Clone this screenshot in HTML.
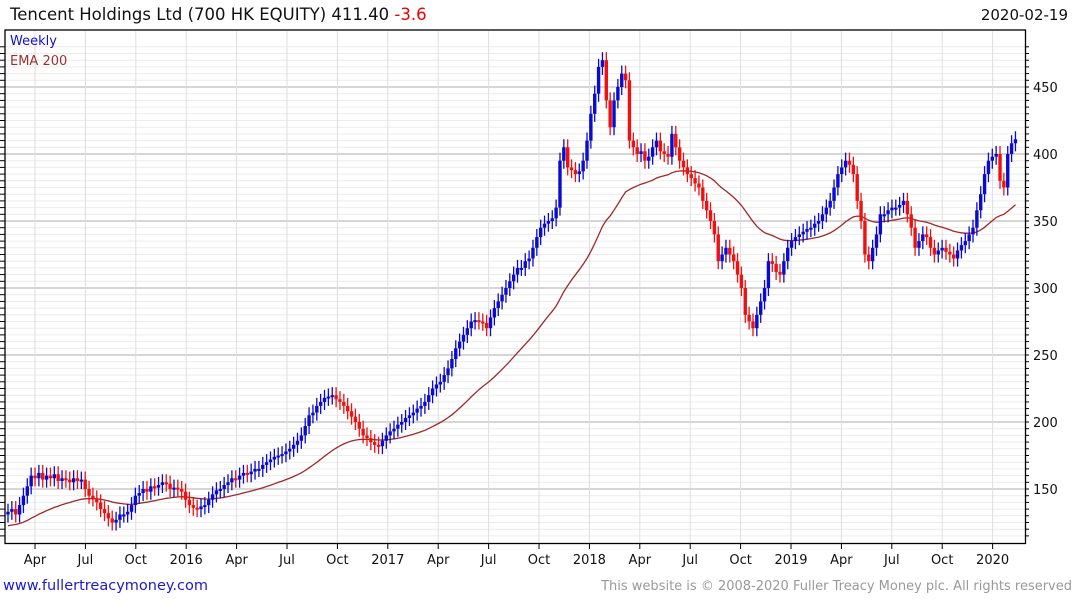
<!DOCTYPE html>
<html><head><meta charset="utf-8"><style>
body{margin:0;background:#fff;width:1075px;height:600px;overflow:hidden;font-family:"DejaVu Sans","Liberation Sans",sans-serif}
</style></head><body>
<svg id="chart" width="1075" height="600" xmlns="http://www.w3.org/2000/svg" font-family="DejaVu Sans, Liberation Sans, sans-serif">
<text x="10" y="20" font-size="16.5" fill="#111">Tencent Holdings Ltd (700 HK EQUITY) 411.40 <tspan fill="#e00">-3.6</tspan></text>
<text x="1068" y="20" font-size="15" fill="#111" text-anchor="end">2020-02-19</text>
<g id="grid"></g>
<g id="ema"></g>
<g id="candles"></g>
<rect x="5" y="30" width="1020.5" height="513.5" fill="none" stroke="#000" stroke-width="1.3"/>
<g id="axes"></g>
<text x="10" y="45" font-size="13" fill="#1010d0">Weekly</text>
<text x="10" y="65" font-size="13" fill="#a03030">EMA 200</text>
<text x="3" y="590" font-size="14.5" fill="#1a1ad0">www.fullertreacymoney.com</text>
<text x="1072" y="590" font-size="13" fill="#999" text-anchor="end">This website is © 2008-2020 Fuller Treacy Money plc. All rights reserved</text>
</svg>
<script>
const closes=[133,135,131,138,145,152,160,158,162,157,
160,158,161,156,158,157,155,158,156,157,
150,145,143,140,135,132,128,125,127,131,
131,133,138,145,147,150,148,152,151,153,
155,154,150,151,150,148,142,138,136,135,
137,138,142,146,149,150,153,155,158,157,
160,162,161,163,165,165,168,170,172,174,
175,176,178,180,183,186,190,197,205,207,
212,215,218,219,220,217,215,212,208,204,
200,195,190,188,185,183,182,186,190,193,
195,198,200,203,205,207,210,212,215,220,
225,228,230,235,240,247,255,260,265,270,
275,276,275,274,270,278,285,290,295,300,
305,310,315,315,320,322,330,338,345,348,
350,352,360,395,405,390,388,385,387,395,
410,430,445,465,470,440,420,440,450,460,
455,410,405,400,402,395,398,405,410,402,
400,398,415,405,395,390,385,382,378,375,
365,358,350,340,320,325,330,325,320,310,
300,280,275,270,280,290,300,320,318,312,
310,320,330,335,338,340,342,344,345,348,
350,355,360,365,375,385,390,395,392,385,
365,350,325,320,330,340,355,355,358,360,
360,362,365,355,345,330,335,340,338,330,
325,328,330,327,325,322,328,332,335,340,
345,358,370,385,395,398,400,380,375,400,
408,411];
const priceTicks=[150,200,250,300,350,400,450];
const dateLabels=["Apr","Jul","Oct","2016","Apr","Jul","Oct","2017","Apr","Jul","Oct","2018","Apr","Jul","Oct","2019","Apr","Jul","Oct","2020"];
const emaSeed=122;
const emaPeriod=40;

const NS="http://www.w3.org/2000/svg";
function yS(v){return 87+(450-v)*1.34;}
function xS(i){return 8+i*3.86;}
function qX(q){return 35+q*50.4;}
function mk(tag,attrs,parent){const e=document.createElementNS(NS,tag);for(const k in attrs)e.setAttribute(k,attrs[k]);parent.appendChild(e);return e;}
const grid=document.getElementById('grid'),axes=document.getElementById('axes');
for(let v=115;v<=480;v+=5){const y=yS(v);if(y<31||y>543)continue;
 const major=v%50===0;
 const l=mk('line',{x1:5,x2:1025,y1:y,y2:y,stroke:major?'#bdbdbd':'#ececec','stroke-width':major?1.3:1},grid);
 
 
 const t=mk('line',{x1:1025,x2:1029,y1:y,y2:y,stroke:'#000','stroke-width':1},axes);
 
 
 const t2=mk('line',{x1:0,x2:5,y1:y,y2:y,stroke:'#000','stroke-width':1},axes);
 
 
}
priceTicks.forEach(v=>{const t=mk('text',{x:1033,y:yS(v)+5,'font-size':13,fill:'#111'},axes);t.textContent=v;
 
 });
dateLabels.forEach((s,q)=>{const x=qX(q);
 const l=mk('line',{x1:x,x2:x,y1:31,y2:543,stroke:'#dedede','stroke-width':1},grid);
 
 
 const tk=mk('line',{x1:x,x2:x,y1:543,y2:549,stroke:'#000','stroke-width':1},axes);
 
 
 const t=mk('text',{x:x,y:564,'font-size':13,fill:'#111','text-anchor':'middle'},axes);t.textContent=s;
 
 });
const cg=document.getElementById('candles');
closes.forEach((c,i)=>{
 const o=i===0?c-2:closes[i-1];
 const hi=Math.max(o,c)+6,lo=Math.min(o,c)-6;
 const col=c>=o?'#0a0ad0':'#f01010';const x=xS(i);
 const w=mk('line',{x1:x,x2:x,y1:yS(hi),y2:yS(lo),stroke:col,'stroke-width':1.3},cg);
 
 
 const top=yS(Math.max(o,c)),h=Math.max(2,yS(Math.min(o,c))-top);
 const b=mk('rect',{x:x-1.7,y:top,width:3.4,height:h,fill:col},cg);
 
 
});
let e=emaSeed;const a=2/(emaPeriod+1);let d='';
closes.forEach((c,i)=>{e=e+a*(c-e);d+=(i?'L':'M')+xS(i).toFixed(1)+' '+yS(e).toFixed(1);});
const p=mk('path',{d:d,fill:'none',stroke:'#a02828','stroke-width':1.3},document.getElementById('ema'));


</script>
</body></html>
